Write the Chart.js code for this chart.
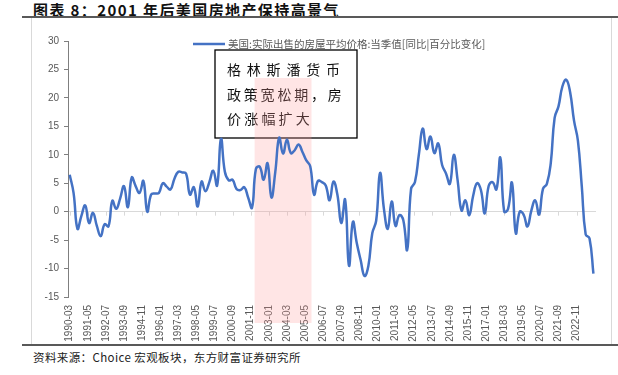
<!DOCTYPE html>
<html>
<head>
<meta charset="utf-8">
<script src="https://cdn.jsdelivr.net/npm/chart.js@4.4.1/dist/chart.umd.min.js"></script>
<style>
  body { margin: 0; background: #fff; width: 618px; height: 375px; position: relative; overflow: hidden; }
  #title { position: absolute; left: 33px; top: -1px; font: bold 15px "Noto Sans CJK SC", sans-serif; color: #111; letter-spacing: 1.4px; white-space: nowrap; }
  .hline { position: absolute; left: 22px; width: 596px; height: 2px; background: #595959; }
  .vline { position: absolute; top: 18px; width: 1px; height: 326px; background: #d9d9d9; }
  #source { position: absolute; left: 33px; top: 349px; font: 11.5px "Noto Sans CJK SC", sans-serif; color: #222; white-space: nowrap; letter-spacing: 0.4px; }
  #wrap { position: absolute; left: 31px; top: 18px; }
</style>
</head>
<body>
<div id="title">图表 8：2001 年后美国房地产保持高景气</div>
<div class="hline" style="top:16px"></div>
<div class="vline" style="left:31px"></div>
<div class="vline" style="left:611px"></div>
<div class="hline" style="top:344px"></div>
<div id="source">资料来源：Choice 宏观板块，东方财富证券研究所</div>
<div id="wrap"><canvas id="myChart" width="580" height="326"></canvas></div>
<script>
// quarterly data, first value 1990-03
const startMonth = '1990-03';
const seriesName = '美国:实际出售的房屋平均价格:当季值[同比|百分比变化]';
const yoyValues = [
  6.5, 3.3, -3.0, -0.8, 1.1, -2.0, -0.2, -2.5, -4.3, -2.2,
  -2.6, 1.9, 0.5, 2.3, 4.5, 0.8, 6.0, 4.5, 3.3, 5.4,
  0.0, 3.0, 3.2, 3.3, 5.0, 4.4, 3.9, 5.8, 7.0, 6.9,
  6.7, 3.0, 4.3, 0.9, 5.3, 3.6, 5.2, 7.2, 4.6, 12.8,
  7.0, 5.5, 5.6, 4.0, 3.8, 4.3, 2.5, 0.7, 7.5, 7.9,
  5.6, 8.5, 2.5, 7.0, 13.0, 10.2, 12.7, 10.3, 10.8, 11.8,
  10.5, 9.0, 8.0, 3.0, 5.4, 5.2, 4.6, 2.0, 5.3, 3.0,
  -2.0, 2.1, -9.5, -1.8, -5.5, -8.5, -11.3, -9.5, -3.8, -1.6,
  6.8, 0.5, -3.0, 1.8, -2.5, -0.6, -1.5, -6.7, 4.0, 5.2,
  10.0, 14.6, 11.0, 13.2, 10.3, 12.0, 8.2, 6.7, 4.9, 10.0,
  5.5, 0.2, 2.0, -0.6, 2.8, 5.0, 3.8, -0.3, 4.5, 5.2,
  3.9, 9.5, 0.0, 0.5, 5.1, -3.8, 0.0, -0.5, -2.6, 0.2,
  2.0, -0.5, 4.0, 4.9, 8.5, 16.5, 18.5, 22.0, 23.2, 21.0,
  16.0, 12.5, 4.5, -4.0, -4.7, -10.9
];
const tickLabels = ['1990-03','1991-05','1992-07','1993-09','1994-11','1996-01','1997-03','1998-05','1999-07','2000-09',
  '2001-11','2003-01','2004-03','2005-05','2006-07','2007-09','2008-11','2010-01','2011-03','2012-05',
  '2013-07','2014-09','2015-11','2017-01','2018-03','2019-05','2020-07','2021-09','2022-11'];
const yTicks = [-15, -10, -5, 0, 5, 10, 15, 20, 25, 30];
// Greenspan easing period (shaded)
const shadeFrom = '2002-02';
const shadeTo = '2005-10';
const noteLines = ['格林斯潘货币', '政策宽松期，房', '价涨幅扩大'];

function monthIndex(label) {
  const [y, m] = label.split('-').map(Number);
  const [y0, m0] = startMonth.split('-').map(Number);
  return (y - y0) * 12 + (m - m0);
}

const points = yoyValues.map((v, i) => ({ x: i * 3, y: v }));
const tickMap = {};
tickLabels.forEach(l => { tickMap[monthIndex(l)] = l; });

const lineColor = '#4472C4';
const axisGray = '#595959';

const decorations = {
  id: 'decorations',
  beforeDatasetsDraw(chart) {
    const ctx = chart.ctx;
    const x = chart.scales.x, y = chart.scales.y;
    const area = chart.chartArea;
    // zero line tick marks
    const y0 = y.getPixelForValue(0);
    ctx.save();
    ctx.strokeStyle = '#d9d9d9';
    ctx.lineWidth = 1;
    tickLabels.forEach(l => {
      const px = Math.round(x.getPixelForValue(monthIndex(l))) + 0.5;
      ctx.beginPath();
      ctx.moveTo(px, y0);
      ctx.lineTo(px, y0 + 4);
      ctx.stroke();
    });
    // note box
    const bx = 184, by = 32, bw = 142, bh = 88;
    ctx.fillStyle = '#fff';
    ctx.fillRect(bx, by, bw, bh);
    ctx.strokeStyle = '#000';
    ctx.lineWidth = 1.3;
    ctx.strokeRect(bx, by, bw, bh);
    ctx.fillStyle = '#111';
    ctx.font = '14px "Noto Sans CJK SC"';
    ctx.textBaseline = 'middle';
    const pitch = [19.8, 16.8, 17.2];
    noteLines.forEach((line, i) => {
      [...line].forEach((ch, j) => {
        ctx.fillText(ch, bx + 12 + j * pitch[i], by + 20 + i * 24.5);
      });
    });
    // shaded period
    const sx1 = x.getPixelForValue(monthIndex(shadeFrom));
    const sx2 = x.getPixelForValue(monthIndex(shadeTo));
    const sy1 = y.getPixelForValue(23.5);
    ctx.fillStyle = 'rgba(255,153,153,0.25)';
    ctx.fillRect(sx1, sy1, sx2 - sx1, area.bottom + 26 - sy1);
    ctx.restore();
  },
  afterDraw(chart) {
    const ctx = chart.ctx;
    ctx.save();
    ctx.strokeStyle = lineColor;
    ctx.lineWidth = 2.5;
    ctx.beginPath();
    ctx.moveTo(162, 26);
    ctx.lineTo(194, 26);
    ctx.stroke();
    ctx.fillStyle = axisGray;
    ctx.font = '10.5px "Noto Sans CJK SC"';
    ctx.textBaseline = 'middle';
    ctx.fillText(chart.data.datasets[0].label, 197, 26);
    ctx.restore();
  }
};

new Chart(document.getElementById('myChart'), {
  type: 'line',
  data: {
    datasets: [{
      label: seriesName,
      data: points,
      borderColor: lineColor,
      borderWidth: 2.5,
      pointRadius: 0,
      tension: 0.45,
      fill: false
    }]
  },
  options: {
    responsive: false,
    devicePixelRatio: 1,
    animation: false,
    layout: { padding: { top: 23, right: 15, left: 0, bottom: 0 } },
    plugins: { legend: { display: false }, tooltip: { enabled: false } },
    scales: {
      x: {
        type: 'linear',
        min: -1.3,
        max: 407,
        afterBuildTicks(scale) {
          scale.ticks = tickLabels.map(l => ({ value: monthIndex(l) }));
        },
        afterFit(scale) { scale.height = 47; },
        grid: { display: false, drawTicks: false, tickLength: 0 },
        border: { display: false },
        ticks: {
          autoSkip: false,
          maxRotation: 90,
          minRotation: 90,
          padding: 8,
          color: axisGray,
          font: { size: 10, family: 'Liberation Sans' },
          callback: (v) => tickMap[v] || ''
        }
      },
      y: {
        min: -15,
        max: 30,
        afterBuildTicks(scale) {
          scale.ticks = yTicks.map(v => ({ value: v }));
        },
        afterFit(scale) { scale.width = 37; },
        grid: {
          color: (c) => (c.tick && c.tick.value === 0 ? '#d9d9d9' : 'rgba(0,0,0,0)'),
          tickColor: '#7f7f7f',
          tickLength: 4
        },
        border: { color: '#7f7f7f' },
        ticks: {
          padding: 5,
          color: axisGray,
          font: { size: 10, family: 'Liberation Sans' }
        }
      }
    }
  },
  plugins: [decorations]
});
</script>
</body>
</html>
